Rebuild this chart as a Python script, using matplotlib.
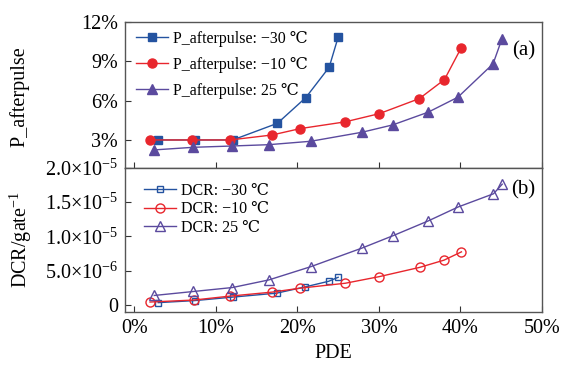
import matplotlib
matplotlib.use("Agg")
import matplotlib.pyplot as plt
from matplotlib.ticker import FixedLocator, FixedFormatter

plt.rcParams['font.family'] = ['Liberation Serif', 'DejaVu Serif']
plt.rcParams['mathtext.fontset'] = 'custom'
plt.rcParams['mathtext.rm'] = 'Liberation Serif'
plt.rcParams['mathtext.it'] = 'Liberation Serif:italic'
plt.rcParams['axes.unicode_minus'] = True

# PDE (%) and afterpulse probability (%)
pde_ap_m30 = [2.94, 7.45, 12.07, 17.55, 21.03, 23.9, 25.0]
ap_m30 = [3.0, 3.0, 3.0, 4.27, 6.23, 8.55, 10.84]
pde_ap_m10 = [1.93, 7.04, 11.74, 16.9, 20.37, 25.85, 30.06, 34.97, 38.04, 40.09]
ap_m10 = [3.0, 3.0, 3.0, 3.38, 3.87, 4.38, 5.01, 6.16, 7.61, 10.03]
pde_ap_25 = [2.42, 7.24, 12.03, 16.49, 21.64, 27.94, 31.7, 36.04, 39.68, 44.0, 45.08]
ap_25 = [2.24, 2.44, 2.54, 2.64, 2.9, 3.59, 4.15, 5.12, 6.26, 8.81, 10.7]

# PDE (%) and dark count rate per gate
pde_dcr_m30 = [2.94, 7.41, 12.07, 17.47, 20.98, 23.85, 25.0]
dcr_m30 = [0.3e-6, 0.6e-6, 1.11e-6, 1.69e-6, 2.61e-6, 3.43e-6, 4.01e-6]
pde_dcr_m10 = [1.93, 7.29, 11.78, 16.9, 20.37, 25.89, 30.06, 35.0, 37.99, 40.12]
dcr_m10 = [0.39e-6, 0.68e-6, 1.26e-6, 1.84e-6, 2.42e-6, 3.14e-6, 4.11e-6, 5.46e-6, 6.52e-6, 7.73e-6]
pde_dcr_25 = [2.45, 7.24, 12.03, 16.49, 21.64, 27.98, 31.74, 36.07, 39.72, 44.05, 45.12]
dcr_25 = [1.35e-6, 1.93e-6, 2.51e-6, 3.62e-6, 5.56e-6, 8.31e-6, 10.1e-6, 12.27e-6, 14.3e-6, 16.23e-6, 17.63e-6]

x_ticks = [0, 10, 20, 30, 40, 50]
x_labels = ['0%', '10%', '20%', '30%', '40%', '50%']
ap_ticks = [3, 6, 9, 12]
ap_labels = ['3%', '6%', '9%', '12%']
dcr_ticks = [0, 5e-6, 1e-5, 1.5e-5, 2e-5]
dcr_labels = ['0',
              r'$\mathrm{5.0{\times}10^{-6}}$',
              r'$\mathrm{1.0{\times}10^{-5}}$',
              r'$\mathrm{1.5{\times}10^{-5}}$',
              r'$\mathrm{2.0{\times}10^{-5}}$']

BLUE = '#2453a0'
RED = '#e8262d'
PURPLE = '#5b4a9e'
SPINE = '#555555'

fig = plt.figure(figsize=(5.65, 3.65), dpi=100)
ax1 = fig.add_axes([0.2212, 0.5397, 0.7381, 0.4000])
ax2 = fig.add_axes([0.2212, 0.1452, 0.7381, 0.3945])

for ax in (ax1, ax2):
    for s in ax.spines.values():
        s.set_color(SPINE)
        s.set_linewidth(1.0)
    ax.tick_params(direction='in', length=4, width=0.8, color='#333333',
                   labelsize=14.5, top=False, right=False, pad=5)
    ax.set_xlim(-1.14, 50)
    ax.xaxis.set_major_locator(FixedLocator(x_ticks))

lw = 1.0
ax1.plot(pde_ap_m30, ap_m30, '-s', color=BLUE, lw=lw, ms=5.5,
         label='P_afterpulse: \u221230 \u2103')
ax1.plot(pde_ap_m10, ap_m10, '-o', color=RED, lw=lw, ms=6.5,
         label='P_afterpulse: \u221210 \u2103')
ax1.plot(pde_ap_25, ap_25, '-^', color=PURPLE, lw=lw, ms=6.5,
         label='P_afterpulse: 25 \u2103')
ax1.set_ylim(0.86, 12)
ax1.yaxis.set_major_locator(FixedLocator(ap_ticks))
ax1.yaxis.set_major_formatter(FixedFormatter(ap_labels))
ax1.set_xticklabels([])
ax1.set_ylabel('P_afterpulse', fontsize=14.5)
ax1.yaxis.set_label_coords(-0.228, 0.49)
ax1.text(0.985, 0.80, '(a)', transform=ax1.transAxes, ha='right', va='center',
         fontsize=15)
ax1.legend(loc='upper left', frameon=False, fontsize=11.5, handlelength=2.0,
           borderaxespad=0.3, labelspacing=0.62, handletextpad=0.3,
           bbox_to_anchor=(0.0, 1.015))

ax2.plot(pde_dcr_m30, dcr_m30, '-s', color=BLUE, lw=lw, ms=5, mfc='none',
         mew=1.0, label='DCR: \u221230 \u2103')
ax2.plot(pde_dcr_m10, dcr_m10, '-o', color=RED, lw=lw, ms=6.5, mfc='none',
         mew=1.0, label='DCR: \u221210 \u2103')
ax2.plot(pde_dcr_25, dcr_25, '-^', color=PURPLE, lw=lw, ms=6.5, mfc='none',
         mew=1.0, label='DCR: 25 \u2103')
ax2.set_ylim(-1.07e-6, 2.0e-5)
ax2.yaxis.set_major_locator(FixedLocator(dcr_ticks))
ax2.yaxis.set_major_formatter(FixedFormatter(dcr_labels))
ax2.xaxis.set_major_formatter(FixedFormatter(x_labels))
ax2.set_ylabel('DCR/gate$^{\\mathrm{-1}}$', fontsize=14.5)
ax2.yaxis.set_label_coords(-0.218, 0.5)
ax2.set_xlabel('PDE', fontsize=14.5, labelpad=4)
ax2.text(0.985, 0.845, '(b)', transform=ax2.transAxes, ha='right', va='center',
         fontsize=15)
ax2.legend(loc='upper left', frameon=False, fontsize=11.5, handlelength=2.0,
           borderaxespad=0.3, labelspacing=0.15, handletextpad=0.3,
           bbox_to_anchor=(0.02, 0.975))

fig.savefig('out.png', dpi=100)
